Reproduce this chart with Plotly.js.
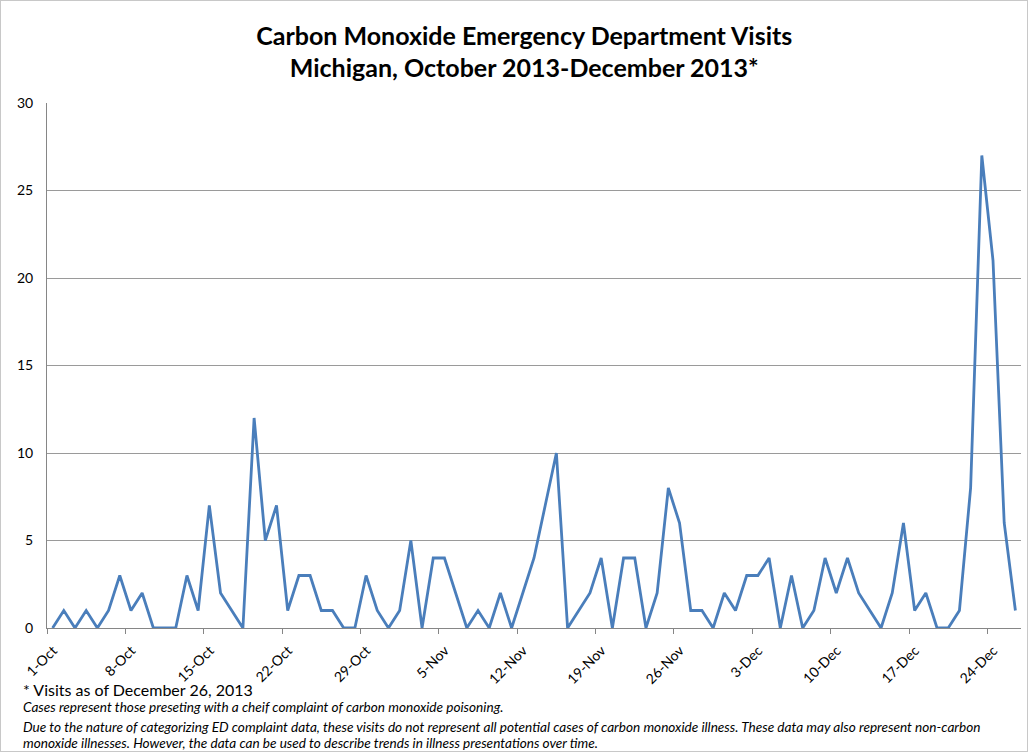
<!DOCTYPE html>
<html>
<head>
<meta charset="utf-8">
<script src="https://cdn.plot.ly/plotly-3.0.1.min.js"></script>
<style>
  html, body { margin: 0; padding: 0; background: #fff; }
  #chart { width: 1026px; height: 750px; border: 1px solid #c8c8c8; }
</style>
</head>
<body>
<div id="chart"></div>
<script>
// Daily visit counts
const octVisits = [0,1,0,1,0,1,3,1,2,0, 0,0,3,1,7,2,1,0,12,5, 7,1,3,3,1,1,0,0,3,1, 0];
const novVisits = [1,5,0,4,4,2,0,1,0,2, 0,2,4,7,10,0,1,2,4,0, 4,4,0,2,8,6,1,1,0,2];
const decVisits = [1,3,3,4,0,3,0,1,4,2, 4,2,1,0,2,6,1,2,0,0, 1,8,27,21,6,1];

const tickLabels = ['1-Oct','8-Oct','15-Oct','22-Oct','29-Oct','5-Nov','12-Nov','19-Nov','26-Nov','3-Dec','10-Dec','17-Dec','24-Dec'];
const tickDates  = ['2013-10-01','2013-10-08','2013-10-15','2013-10-22','2013-10-29','2013-11-05','2013-11-12','2013-11-19','2013-11-26','2013-12-03','2013-12-10','2013-12-17','2013-12-24'];

function pad(n){ return (n < 10 ? '0' : '') + n; }
const dates = [], visits = [];
[['10', octVisits], ['11', novVisits], ['12', decVisits]].forEach(([m, arr]) => {
  arr.forEach((v, i) => { dates.push('2013-' + m + '-' + pad(i + 1)); visits.push(v); });
});

// Excel date axis: ticks sit half a day before the point
function shiftHalfDay(d){
  const t = new Date(d + 'T00:00:00Z').getTime() - 12*3600*1000;
  const dt = new Date(t);
  return dt.getUTCFullYear() + '-' + pad(dt.getUTCMonth()+1) + '-' + pad(dt.getUTCDate()) + ' ' + pad(dt.getUTCHours()) + ':00';
}
const tickPos = tickDates.map(shiftHalfDay);

const fontFam = 'Lato, "Open Sans", sans-serif';

const trace = {
  x: dates,
  y: visits,
  type: 'scatter',
  mode: 'lines',
  line: { color: '#4a7ebb', width: 2.8 },
  hoverinfo: 'x+y'
};

const noteFont = { family: fontFam, size: 13.6, color: '#000' };
const noteX = -0.0265;

const layout = {
  width: 1026,
  height: 750,
  margin: { l: 46, r: 6, t: 102, b: 123 },
  paper_bgcolor: '#ffffff',
  plot_bgcolor: '#ffffff',
  showlegend: false,
  title: {
    text: '<b>Carbon Monoxide Emergency Department Visits<br>Michigan, October 2013-December 2013*</b>',
    font: { family: fontFam, size: 25, color: '#000' },
    x: 0.51, xanchor: 'center',
    y: 0.942, yanchor: 'top'
  },
  xaxis: {
    type: 'date',
    range: [shiftHalfDay('2013-10-01'), shiftHalfDay('2013-12-27')],
    tickmode: 'array',
    tickvals: tickPos,
    ticktext: tickLabels,
    tickangle: -45,
    ticks: 'outside',
    ticklen: 5,
    tickcolor: '#868686',
    ticklabelstandoff: 3,
    ticklabelshift: 6,
    showline: true,
    linecolor: '#868686',
    linewidth: 1,
    showgrid: false,
    zeroline: false,
    tickfont: { family: fontFam, size: 14, color: '#000' }
  },
  yaxis: {
    range: [0, 30],
    dtick: 5,
    tick0: 0,
    showgrid: true,
    gridcolor: '#9a9a9a',
    gridwidth: 1,
    showline: true,
    linecolor: '#868686',
    zeroline: false,
    ticks: '',
    ticklabelstandoff: 10,
    tickfont: { family: fontFam, size: 14, color: '#000' }
  },
  annotations: [
    { xref: 'paper', yref: 'paper', x: noteX, y: -0.095, xanchor: 'left', yanchor: 'top', showarrow: false,
      align: 'left', text: '* Visits as of December 26, 2013',
      font: { family: fontFam, size: 16, color: '#000' } },
    { xref: 'paper', yref: 'paper', x: noteX, y: -0.131, xanchor: 'left', yanchor: 'top', showarrow: false,
      align: 'left', text: '<i>Cases represent those preseting with a cheif complaint of carbon monoxide poisoning.</i>',
      font: noteFont },
    { xref: 'paper', yref: 'paper', x: noteX, y: -0.169, xanchor: 'left', yanchor: 'top', showarrow: false,
      align: 'left', text: '<i>Due to the nature of categorizing ED complaint data, these visits do not represent all potential cases of carbon monoxide illness. These data may also represent non-carbon</i>',
      font: noteFont },
    { xref: 'paper', yref: 'paper', x: noteX, y: -0.2, xanchor: 'left', yanchor: 'top', showarrow: false,
      align: 'left', text: '<i>monoxide illnesses. However, the data can be used to describe trends in illness presentations over time.</i>',
      font: noteFont }
  ]
};

Plotly.newPlot('chart', [trace], layout, { displayModeBar: false, staticPlot: true });
</script>
</body>
</html>
